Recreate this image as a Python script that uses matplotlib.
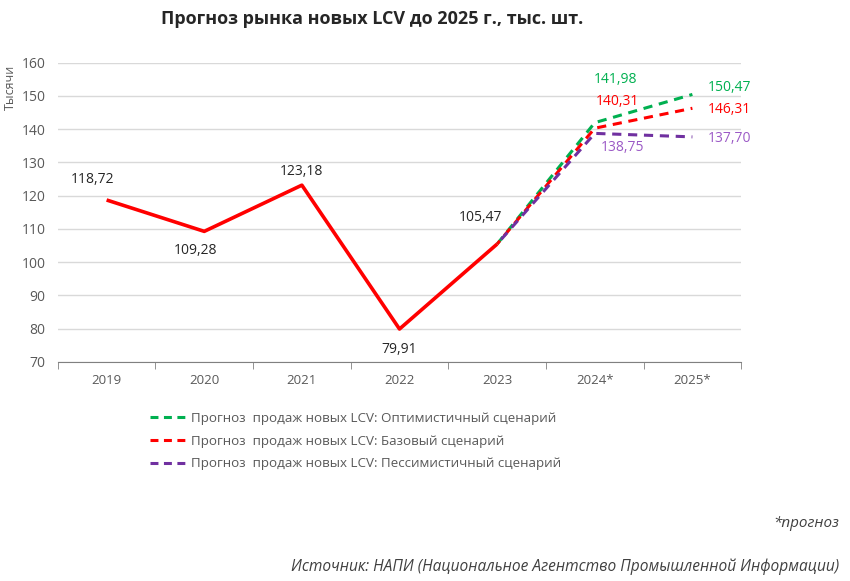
import matplotlib
matplotlib.use("Agg")
import matplotlib.pyplot as plt
from matplotlib.lines import Line2D

plt.rcParams['font.family'] = ['Open Sans', 'DejaVu Sans']

categories = ["2019", "2020", "2021", "2022", "2023", "2024*", "2025*"]
actual = [118.72, 109.28, 123.18, 79.91, 105.47]
optimistic = [105.47, 141.98, 150.47]
base = [105.47, 140.31, 146.31]
pessimistic = [105.47, 138.75, 137.70]
legend_labels = ["Прогноз  продаж новых LCV: Оптимистичный сценарий",
                 "Прогноз  продаж новых LCV: Базовый сценарий",
                 "Прогноз  продаж новых LCV: Пессимистичный сценарий"]

GREEN = "#00B050"
RED = "#FF0000"
PURPLE = "#7030A0"
PURPLE_TXT = "#9B59C6"
GRID = "#D9D9D9"
TXT = "#595959"

fig = plt.figure(figsize=(8.5, 5.81), dpi=100)
ax = fig.add_axes([0.068, 0.377, 0.804, 0.515])

x_act = list(range(len(actual)))
x_fc = list(range(len(actual) - 1, len(categories)))

ax.plot(x_fc, optimistic, color=GREEN, lw=2.2, ls=(0, (3.0, 2.2)), zorder=3)
ax.plot(x_fc, base, color=RED, lw=2.2, ls=(1.6, (3.0, 2.2)), zorder=3)
ax.plot(x_fc, pessimistic, color=PURPLE, lw=2.2, ls=(3.2, (3.0, 2.2)), zorder=3)
ax.plot(x_act, actual, color=RED, lw=2.6, solid_capstyle='butt', zorder=4)

ax.set_xlim(-0.5, len(categories) - 0.5)
ax.set_ylim(70, 160)
ax.set_yticks(range(70, 161, 10))
ax.set_xticks(range(len(categories)))
ax.set_xticklabels(categories)
ax.set_xticks([i - 0.5 for i in range(len(categories) + 1)], minor=True)
ax.tick_params(axis='x', which='major', length=0, pad=9, labelsize=9.5, labelcolor=TXT)
ax.tick_params(axis='x', which='minor', length=5, color="#808080", direction='out')
ax.tick_params(axis='y', length=0, pad=9, labelsize=10, labelcolor=TXT)
ax.grid(axis='y', color=GRID, lw=1)
ax.set_axisbelow(True)
for s in ['top', 'right', 'left']:
    ax.spines[s].set_visible(False)
ax.spines['bottom'].set_color("#808080")
ax.spines['bottom'].set_zorder(0)

fs = 10
def lab(x, y, s, dx, dy, color="#262626", ha='center'):
    ax.annotate(s, (x, y), xytext=(dx, dy), textcoords='offset points',
                ha=ha, va='center', fontsize=fs, color=color)

lab(0, actual[0], "118,72", -10, 15)
lab(1, actual[1], "109,28", -6, -14)
lab(2, actual[2], "123,18", 0, 10)
lab(3, actual[3], "79,91", 0, -15)
lab(4, actual[4], "105,47", -12, 19)
lab(5, optimistic[1], "141,98", 15, 31, GREEN)
lab(5, base[1], "140,31", 16, 19, RED)
lab(5, pessimistic[1], "138,75", 20, -10, PURPLE_TXT)
lab(6, optimistic[2], "150,47", 11, 5, GREEN, ha='left')
lab(6, base[2], "146,31", 11, -1, RED, ha='left')
lab(6, pessimistic[2], "137,70", 11, -1, PURPLE_TXT, ha='left')

fig.text(0.012, 0.85, "Тысячи", rotation=90, ha='center', va='center',
         fontsize=9, color=TXT)
fig.text(0.438, 0.968, "Прогноз рынка новых LCV до 2025 г., тыс. шт.",
         ha='center', va='center', fontsize=13, fontweight='bold', color="#262626")

handles = [Line2D([], [], color=c, lw=2.2, ls=(0, (2.6, 1.8))) for c in (GREEN, RED, PURPLE)]
fig.legend(handles, legend_labels, loc='upper left', bbox_to_anchor=(0.170, 0.300),
           frameon=False, handlelength=3.0, handletextpad=0.1, labelspacing=0.72,
           fontsize=9.6, labelcolor=TXT, borderaxespad=0)

fig.text(0.987, 0.099, "*прогноз", ha='right', va='center', fontsize=11,
         style='italic', color="#404040")
fig.text(0.987, 0.024, "Источник: НАПИ (Национальное Агентство Промышленной Информации)",
         ha='right', va='center', fontsize=11.2, style='italic', color="#404040")

fig.savefig("out.png", dpi=100)
